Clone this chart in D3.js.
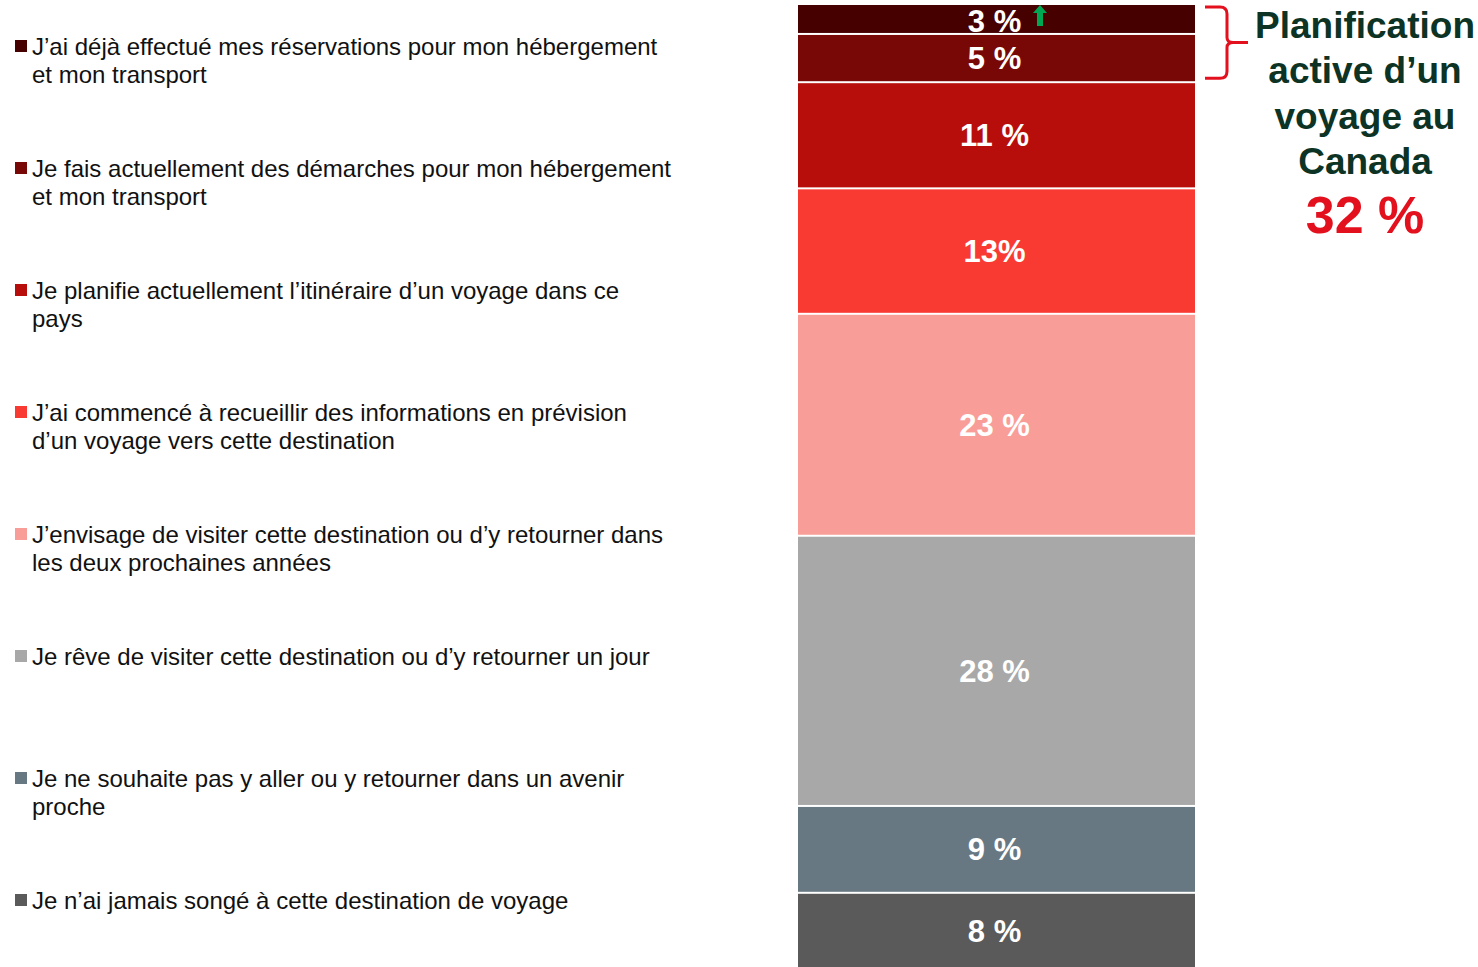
<!DOCTYPE html>
<meta charset="utf-8">
<head>
<script src="https://d3js.org/d3.v7.min.js"></script>
<style>
  body { margin: 0; background: #fff; }
  svg { display: block; font-family: "Liberation Sans", Arial, sans-serif; }
</style>
</head>
<body>
<svg width="1478" height="967"></svg>
<script>
// answers, top of the bar first
var categories = [
  "J\u2019ai déjà effectué mes réservations pour mon hébergement|et mon transport",
  "Je fais actuellement des démarches pour mon hébergement|et mon transport",
  "Je planifie actuellement l\u2019itinéraire d\u2019un voyage dans ce|pays",
  "J\u2019ai commencé à recueillir des informations en prévision|d\u2019un voyage vers cette destination",
  "J\u2019envisage de visiter cette destination ou d\u2019y retourner dans|les deux prochaines années",
  "Je rêve de visiter cette destination ou d\u2019y retourner un jour",
  "Je ne souhaite pas y aller ou y retourner dans un avenir|proche",
  "Je n\u2019ai jamais songé à cette destination de voyage"
];
var values = [3, 5, 11, 13, 23, 28, 9, 8];
var valueLabels = ["3 %", "5 %", "11 %", "13%", "23 %", "28 %", "9 %", "8 %"];
var colors = ["#470000", "#780805", "#b70e0b", "#f93a33", "#f99d98", "#a8a8a8", "#687882", "#5a5a5a"];
var totalLabel = "32 %";
var titleLines = ["Planification", "active d\u2019un", "voyage au", "Canada"];

var svg = d3.select("svg");

// stack
var acc = 0;
var segs = values.map(function(v, i) {
  var s = { i: i, v: v, y0: acc, y1: acc + v, label: valueLabels[i], color: colors[i] };
  acc += v;
  return s;
});

var y = d3.scaleLinear().domain([0, 100]).range([5, 970]);
var x = d3.scaleBand().domain(["bar"]).range([798, 1195]).padding(0);

var bar = svg.append("g");
bar.selectAll("rect")
  .data(segs)
  .enter()
  .append("rect")
  .attr("x", x("bar"))
  .attr("width", x.bandwidth())
  .attr("y", function(d) { return y(d.y0) + (d.i > 0 ? 1 : 0); })
  .attr("height", function(d) { return y(d.y1) - y(d.y0) - (d.i > 0 ? 2 : 1); })
  .attr("fill", function(d) { return d.color; });

bar.selectAll("text")
  .data(segs)
  .enter()
  .append("text")
  .attr("x", x("bar") + x.bandwidth() / 2 - 2)
  .attr("y", function(d) { return (y(d.y0) + y(d.y1)) / 2 + (d.i == 0 ? 13 : 11); })
  .attr("text-anchor", "middle")
  .attr("fill", "#fff")
  .style("font-weight", "bold")
  .style("font-size", "31px")
  .text(function(d) { return d.label; });

// green up arrow on first segment
var ax = 1040, ay0 = y(0), ay1 = y(values[0]) - 8;
svg.append("path")
  .attr("d", "M" + ax + "," + ay0 + " L" + (ax + 7) + "," + (ay0 + 8) + " L" + (ax + 3) + "," + (ay0 + 8) +
    " L" + (ax + 3) + "," + ay1 + " L" + (ax - 3) + "," + ay1 + " L" + (ax - 3) + "," + (ay0 + 8) +
    " L" + (ax - 7) + "," + (ay0 + 8) + " Z")
  .attr("fill", "#00a651");

// legend
var ly = d3.scalePoint().domain(d3.range(categories.length)).range([55, 909]);
var leg = svg.append("g").selectAll("g")
  .data(categories)
  .enter()
  .append("g")
  .attr("transform", function(d, i) { return "translate(0," + ly(i) + ")"; });

leg.append("rect")
  .attr("x", 15).attr("y", -15)
  .attr("width", 12).attr("height", 12)
  .attr("fill", function(d, i) { return colors[i]; });

leg.append("text")
  .attr("fill", "#111")
  .style("font-size", "24px")
  .selectAll("tspan")
  .data(function(d) { return d.split("|"); })
  .enter()
  .append("tspan")
  .attr("x", 32)
  .attr("y", function(d, j) { return j * 27.5; })
  .text(function(d) { return d; });

// bracket around the first two segments
var bTop = y(0) + 2, bBot = y(values[0] + values[1]) - 4, bMid = (bTop + bBot) / 2;
svg.append("path")
  .attr("d", "M1205," + bTop + " H1220 Q1227," + bTop + " 1227," + (bTop + 7) +
    " V" + (bMid - 5) + " Q1227," + bMid + " 1233," + bMid + " H1248" +
    " M1233," + bMid + " Q1227," + bMid + " 1227," + (bMid + 5) +
    " V" + (bBot - 7) + " Q1227," + bBot + " 1220," + bBot + " H1205")
  .attr("fill", "none")
  .attr("stroke", "#e3101d")
  .attr("stroke-width", 3);

svg.append("g").selectAll("text")
  .data(titleLines)
  .enter()
  .append("text")
  .attr("x", 1365)
  .attr("y", function(d, i) { return 38 + i * 45.3; })
  .attr("text-anchor", "middle")
  .attr("fill", "#0c3324")
  .style("font-weight", "bold")
  .style("font-size", "37px")
  .text(function(d) { return d; });

svg.append("text")
  .attr("x", 1365)
  .attr("y", 233)
  .attr("text-anchor", "middle")
  .attr("fill", "#e3101d")
  .style("font-weight", "bold")
  .style("font-size", "52px")
  .text(totalLabel);
</script>
</body>
